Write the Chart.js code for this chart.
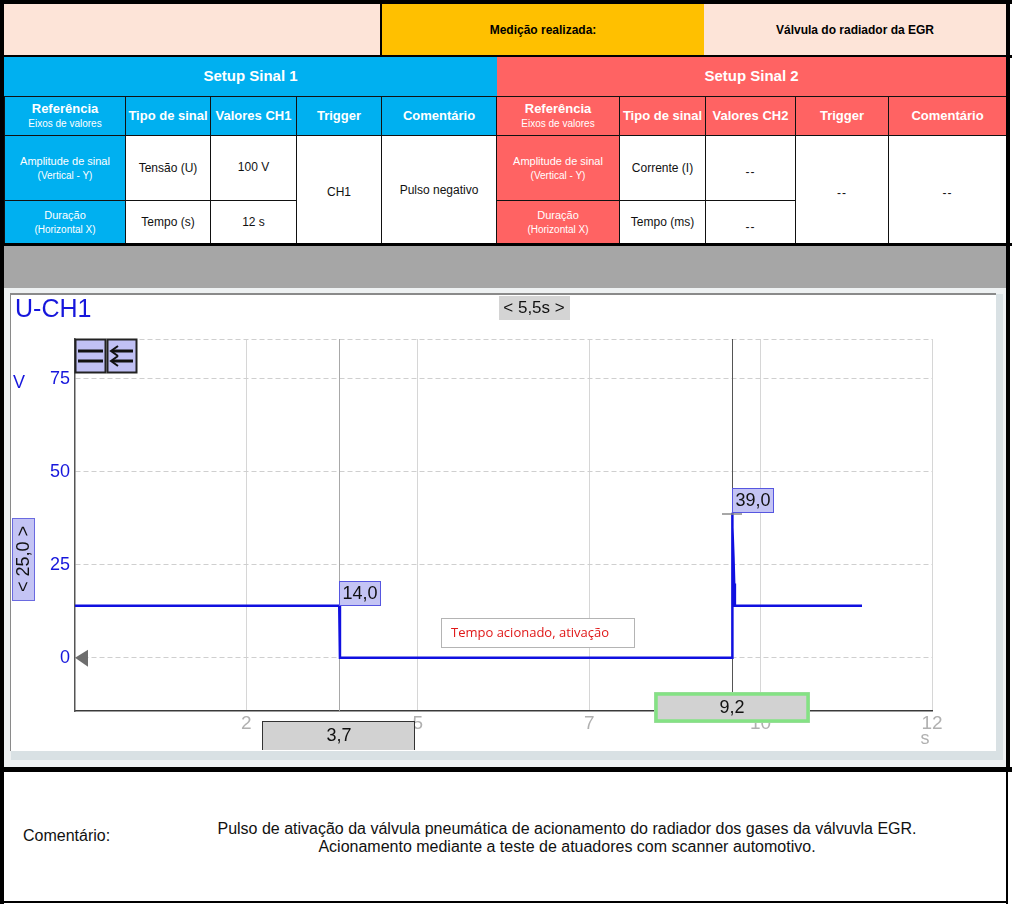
<!DOCTYPE html>
<html lang="pt">
<head>
<meta charset="utf-8">
<title>Válvula do radiador da EGR</title>
<script src="https://cdn.jsdelivr.net/npm/chart.js@4.4.1/dist/chart.umd.min.js"></script>
<style>
  body { margin: 0; background: #fff; font-family: "Liberation Sans", Arial, sans-serif; }
  #page { position: relative; width: 1012px; height: 906px; overflow: hidden; background: #fff; }
  .abs { position: absolute; box-sizing: border-box; }
  .cell { position: absolute; box-sizing: border-box; display: flex; align-items: center; justify-content: center; text-align: center; }
  #setup { position: absolute; left: 4px; top: 96px; width: 1002px; height: 148px; border-collapse: collapse; table-layout: fixed; }
  #setup td, #setup th { border: 1px solid #111; padding: 0; text-align: center; vertical-align: middle; font-size: 12px; color: #111; line-height: 14px; }
  #setup th { color: #fff; font-size: 13px; font-weight: bold; }
  #setup .b { background: #00b0f0; color: #fff; }
  #setup .r { background: #ff6363; color: #fff; }
  #setup td.b, #setup td.r { font-size: 11px; }
  #setup small { font-size: 10px; font-weight: normal; }
  .dash { letter-spacing: 1px; font-size: 14px; }
</style>
</head>
<body>
<div id="page">
  <!-- linha 1 -->
  <div class="abs" style="left:4px;top:4px;width:376px;height:51px;background:#fde4d8"></div>
  <div class="abs" style="left:380px;top:4px;width:2px;height:51px;background:#000"></div>
  <div class="cell" style="left:382px;top:4px;width:322px;height:51px;background:#ffc000;font-size:12px;font-weight:bold">Medição realizada:</div>
  <div class="cell" style="left:704px;top:4px;width:302px;height:51px;background:#fde4d8;font-size:12px;font-weight:bold">Válvula do radiador da EGR</div>
  <div class="abs" style="left:0;top:55px;width:1012px;height:3px;background:#000"></div>
  <!-- linha 2 -->
  <div class="cell" style="left:4px;top:57px;width:493px;height:36px;background:#00b0f0;color:#fff;font-size:15px;font-weight:bold">Setup Sinal 1</div>
  <div class="cell" style="left:497px;top:57px;width:509px;height:36px;background:#ff6363;color:#fff;font-size:15px;font-weight:bold">Setup Sinal 2</div>
  <div class="abs" style="left:4px;top:93px;width:493px;height:3px;background:#00b0f0"></div>
  <div class="abs" style="left:497px;top:93px;width:509px;height:3px;background:#ff6363"></div>

  <table id="setup">
    <colgroup>
      <col style="width:121px"><col style="width:85px"><col style="width:86px"><col style="width:85px"><col style="width:115px">
      <col style="width:123px"><col style="width:86px"><col style="width:90px"><col style="width:93px"><col style="width:118px">
    </colgroup>
    <tr style="height:39px">
      <th class="b">Referência<br><small>Eixos de valores</small></th>
      <th class="b">Tipo de sinal</th>
      <th class="b">Valores CH1</th>
      <th class="b">Trigger</th>
      <th class="b">Comentário</th>
      <th class="r">Referência<br><small>Eixos de valores</small></th>
      <th class="r">Tipo de sinal</th>
      <th class="r">Valores CH2</th>
      <th class="r">Trigger</th>
      <th class="r">Comentário</th>
    </tr>
    <tr style="height:65px">
      <td class="b">Amplitude de sinal<br><small>(Vertical - Y)</small></td>
      <td>Tensão (U)</td>
      <td style="vertical-align:top;padding-top:24px">100 V</td>
      <td rowspan="2" style="padding-top:4px">CH1</td>
      <td rowspan="2">Pulso negativo</td>
      <td class="r">Amplitude de sinal<br><small>(Vertical - Y)</small></td>
      <td>Corrente (I)</td>
      <td class="dash" style="padding-top:8px">--</td>
      <td rowspan="2" class="dash" style="padding-top:6px">--</td>
      <td rowspan="2" class="dash" style="padding-top:6px">--</td>
    </tr>
    <tr style="height:43px">
      <td class="b">Duração<br><small>(Horizontal X)</small></td>
      <td>Tempo (s)</td>
      <td>12 s</td>
      <td class="r">Duração<br><small>(Horizontal X)</small></td>
      <td>Tempo (ms)</td>
      <td class="dash" style="padding-top:10px">--</td>
    </tr>
  </table>

  <div class="abs" style="left:0;top:243px;width:1012px;height:3px;background:#000"></div>
  <!-- painel do osciloscópio -->
  <div class="abs" style="left:4px;top:246px;width:1002px;height:42px;background:#a6a6a6"></div>
  <div class="abs" style="left:4px;top:288px;width:1002px;height:479px;background:#eef1f2"></div>
  <div class="abs" style="left:995px;top:294px;width:8px;height:466px;background:#d9e1e4"></div>
  <div class="abs" style="left:11px;top:750px;width:992px;height:10px;background:#d9e1e4"></div>
  <div class="abs" style="left:10px;top:293px;width:986px;height:458px;background:#fff;border-top:2px solid #8a8a8a;border-left:1px solid #8a8a8a"></div>
  <canvas id="scope" width="984" height="456" style="position:absolute;left:11px;top:294px"></canvas>

  <div class="abs" style="left:0;top:767px;width:1012px;height:5px;background:#000"></div>
  <!-- comentário -->
  <div class="abs" style="left:23px;top:827px;font-size:16px;color:#111">Comentário:</div>
  <div class="abs" style="left:107px;top:820px;width:920px;text-align:center;font-size:16px;line-height:18px;color:#111">
    Pulso de ativação da válvula pneumática de acionamento do radiador dos gases da válvuvla EGR.<br>
    Acionamento mediante a teste de atuadores com scanner automotivo.
  </div>

  <!-- bordas externas -->
  <div class="abs" style="left:0;top:0;width:1012px;height:4px;background:#000"></div>
  <div class="abs" style="left:0;top:0;width:4px;height:904px;background:#000"></div>
  <div class="abs" style="left:1006px;top:0;width:4px;height:772px;background:#000"></div>
  <div class="abs" style="left:1006px;top:772px;width:2px;height:132px;background:#000"></div>
  <div class="abs" style="left:0;top:901px;width:1008px;height:2px;background:#000"></div>
</div>

<script>
// sinal CH1 (tempo em s, tensão em V)
const timeS    = [0, 3.70, 3.71, 9.20, 9.20, 9.21, 9.22, 9.23, 9.24, 11.02];
const voltageV = [14.0, 14.0, 0.0, 0.0, 39.0, 35.0, 27.0, 20.0, 14.0, 14.0];

// eixos
const xMin = 0, xMax = 12;
const yMin = -14.3, yMax = 85.7;
const xTickValues = [2.4, 4.8, 7.2, 9.6, 12];
const xTickLabels = ['2', '5', '7', '10', '12'];
const yTickValues = [0, 25, 50, 75];
const yTickLabels = ['0', '25', '50', '75'];

// cursores e marcadores
const cursorTimes  = [3.7, 9.2];
const cursorLabels = ['3,7', '9,2'];
const markerValues = [14.0, 39.0];
const markerLabels = ['14,0', '39,0'];

// anotação
const noteText = 'Tempo acionado, ativação';
const noteTime = 5.12, noteValue = 10.75;

const FONT = '"Liberation Sans", Arial, sans-serif';
const BLUE = '#1616dc';

function box(ctx, x, y, w, h, fill, stroke, lw) {
    ctx.fillStyle = fill;
    ctx.fillRect(x, y, w, h);
    if (stroke) {
        ctx.strokeStyle = stroke;
        ctx.lineWidth = lw || 1;
        ctx.strokeRect(x + 0.5, y + 0.5, w - 1, h - 1);
    }
}

function text(ctx, s, x, y, font, color, align) {
    ctx.font = font;
    ctx.fillStyle = color;
    ctx.textAlign = align || 'center';
    ctx.textBaseline = 'middle';
    ctx.fillText(s, x, y);
}

const scopeOverlay = {
    id: 'scopeOverlay',
    beforeDatasetsDraw(chart) {
        const { ctx, chartArea: a, scales: { x } } = chart;
        ctx.save();
        ctx.lineWidth = 1;
        // cursor 1
        let cx = Math.round(x.getPixelForValue(cursorTimes[0])) + 0.5;
        ctx.strokeStyle = '#a8a8a8';
        ctx.beginPath(); ctx.moveTo(cx, a.top); ctx.lineTo(cx, a.bottom); ctx.stroke();
        // cursor 2
        cx = Math.round(x.getPixelForValue(cursorTimes[1])) + 0.5;
        ctx.strokeStyle = '#555';
        ctx.beginPath(); ctx.moveTo(cx, a.top); ctx.lineTo(cx, a.bottom - 19); ctx.stroke();
        ctx.restore();
    },
    afterDraw(chart) {
        const { ctx, chartArea: a, scales: { x, y } } = chart;
        ctx.save();

        // título do canal
        text(ctx, 'U-CH1', 4, 16, '25px ' + FONT, BLUE, 'left');
        text(ctx, 'V', 2, 89, '18px ' + FONT, BLUE, 'left');
        text(ctx, 's', a.right - 7, 445, '18px ' + FONT, '#b0b0b0');

        // base de tempo
        box(ctx, 488, 2, 71, 24, '#d4d4d4');
        text(ctx, '< 5,5s >', 523, 14, '17px ' + FONT, '#111');

        // escala vertical
        box(ctx, 1, 224, 23, 83, '#c4c4f4', '#6a6ae0');
        ctx.save();
        ctx.translate(12, 265);
        ctx.rotate(-Math.PI / 2);
        text(ctx, '< 25,0 >', 0, 1, '18px ' + FONT, '#111');
        ctx.restore();

        // botões
        box(ctx, a.left, a.top, 31, 34, '#c0c0f4', '#222', 2);
        box(ctx, a.left + 32, a.top, 30, 34, '#c0c0f4', '#222', 2);
        ctx.strokeStyle = '#111';
        ctx.lineWidth = 3;
        ctx.beginPath();
        ctx.moveTo(a.left + 3, a.top + 12); ctx.lineTo(a.left + 28, a.top + 12);
        ctx.moveTo(a.left + 3, a.top + 22); ctx.lineTo(a.left + 28, a.top + 22);
        ctx.moveTo(a.left + 37, a.top + 12); ctx.lineTo(a.left + 58, a.top + 12);
        ctx.moveTo(a.left + 37, a.top + 22); ctx.lineTo(a.left + 58, a.top + 22);
        ctx.stroke();
        ctx.lineWidth = 2;
        ctx.beginPath();
        [12, 22].forEach(dy => {
            ctx.moveTo(a.left + 43, a.top + dy - 5);
            ctx.lineTo(a.left + 36, a.top + dy);
            ctx.lineTo(a.left + 43, a.top + dy + 5);
        });
        ctx.stroke();

        // nível zero
        const y0 = y.getPixelForValue(0);
        ctx.fillStyle = '#6e6e6e';
        ctx.beginPath();
        ctx.moveTo(a.left, y0); ctx.lineTo(a.left + 13, y0 - 8); ctx.lineTo(a.left + 13, y0 + 9);
        ctx.closePath(); ctx.fill();

        // marcadores de valor
        cursorTimes.forEach((t, i) => {
            const cx = Math.round(x.getPixelForValue(t));
            const my = Math.round(y.getPixelForValue(markerValues[i]));
            if (i === 1) {
                ctx.strokeStyle = '#8a8a8a';
                ctx.lineWidth = 1.5;
                ctx.beginPath(); ctx.moveTo(cx - 10, my + 1); ctx.lineTo(cx + 10, my + 1); ctx.stroke();
            }
            box(ctx, cx, my - 25, 42, 25, '#c4c4f4', '#5656e0');
            text(ctx, markerLabels[i], cx + 21, my - 12, '18px ' + FONT, '#111');
        });

        // anotação
        const nx = Math.round(x.getPixelForValue(noteTime));
        const ny = Math.round(y.getPixelForValue(noteValue));
        box(ctx, nx, ny, 194, 30, '#fff', '#b4b4b4');
        text(ctx, noteText, nx + 10, ny + 15, '13px "Open Sans", ' + FONT, '#e01818', 'left');

        // caixas dos cursores
        let cx = Math.round(x.getPixelForValue(cursorTimes[0]));
        box(ctx, cx - 77, a.bottom + 10, 153, 30, '#d2d2d2', '#333');
        text(ctx, cursorLabels[0], cx, a.bottom + 25, '18px ' + FONT, '#111');
        cx = Math.round(x.getPixelForValue(cursorTimes[1]));
        ctx.fillStyle = '#d2d2d2';
        ctx.fillRect(cx - 78, a.bottom - 19, 156, 31);
        ctx.strokeStyle = '#84e284';
        ctx.lineWidth = 3.5;
        ctx.strokeRect(cx - 76, a.bottom - 17, 152, 27);
        text(ctx, cursorLabels[1], cx, a.bottom - 3, '18px ' + FONT, '#111');

        ctx.restore();
    }
};

const canvas = document.getElementById('scope');
new Chart(canvas.getContext('2d'), {
    type: 'line',
    data: {
        datasets: [{
            label: 'U-CH1',
            data: timeS.map((t, i) => ({ x: t, y: voltageV[i] })),
            borderColor: '#1010e0',
            borderWidth: 2.5,
            pointRadius: 0,
            tension: 0,
            fill: false
        }]
    },
    options: {
        responsive: false,
        animation: false,
        events: [],
        layout: { padding: { left: 0, top: 45, right: 63, bottom: 0 } },
        plugins: { legend: { display: false }, tooltip: { enabled: false } },
        scales: {
            x: {
                type: 'linear',
                min: xMin,
                max: xMax,
                afterBuildTicks: s => { s.ticks = xTickValues.map(v => ({ value: v })); },
                afterFit: s => { s.height = 39; },
                ticks: {
                    autoSkip: false,
                    maxRotation: 0,
                    padding: 1,
                    color: '#b0b0b0',
                    font: { family: FONT, size: 19 },
                    callback: v => {
                        const i = xTickValues.indexOf(v);
                        return i >= 0 ? xTickLabels[i] : '';
                    }
                },
                grid: { color: '#d6d6d6', lineWidth: 1, drawTicks: false },
                border: { display: true, color: '#3a3a3a', width: 1.5 }
            },
            y: {
                type: 'linear',
                min: yMin,
                max: yMax,
                afterBuildTicks: s => { s.ticks = yTickValues.concat([yMax]).map(v => ({ value: v })); },
                afterFit: s => { s.width = 64; },
                ticks: {
                    padding: 5,
                    color: BLUE,
                    font: { family: FONT, size: 18 },
                    callback: v => {
                        const i = yTickValues.indexOf(v);
                        return i >= 0 ? yTickLabels[i] : '';
                    }
                },
                grid: { color: '#cfcfcf', lineWidth: 1, drawTicks: false },
                border: { display: true, color: '#555', width: 1.5, dash: [5, 3] }
            }
        }
    },
    plugins: [scopeOverlay]
});
</script>
</body>
</html>
